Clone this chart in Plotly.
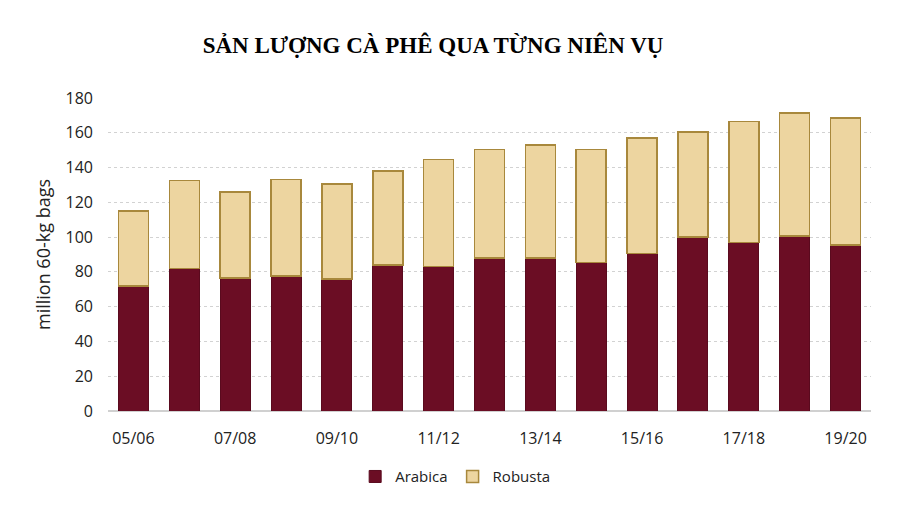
import plotly.graph_objects as go

# Niên vụ (seasons)
nien_vu = ['05/06', '06/07', '07/08', '08/09', '09/10', '10/11', '11/12', '12/13',
           '13/14', '14/15', '15/16', '16/17', '17/18', '18/19', '19/20']
# million 60-kg bags
arabica = [72, 82, 76.5, 77.5, 76, 84, 83, 88, 88, 85.5, 90.5, 100, 97, 100.5, 95.5]
robusta = [43, 50.5, 49.5, 55.5, 54.5, 54, 61.5, 62.5, 65, 65, 66.5, 60.5, 69.5, 71, 73]
nhan_truc_x = nien_vu[::2]

fig = go.Figure()
fig.add_trace(go.Bar(x=nien_vu, y=arabica, name='Arabica',
                     marker=dict(color='#6B0D24', line=dict(color='#5A0A1E', width=1))))
fig.add_trace(go.Bar(x=nien_vu, y=robusta, name='Robusta',
                     marker=dict(color='#EDD5A0', line=dict(color='#A8883C', width=1.5))))

# trang html có lề body 8px nên bù lại ở margin
fig.update_layout(
    barmode='stack',
    bargap=0.41,
    width=922, height=519,
    margin=dict(l=100, r=59, t=90, b=116, autoexpand=False),
    paper_bgcolor='white', plot_bgcolor='white',
    font=dict(family='Open Sans', size=16, color='#222222'),
    title=dict(text='<b>SẢN LƯỢNG CÀ PHÊ QUA TỪNG NIÊN VỤ</b>',
               font=dict(family='Liberation Serif', size=23, color='black'),
               x=0.461, xanchor='center', y=0.929, yanchor='middle'),
    legend=dict(orientation='h', x=0.455, xanchor='center', y=-0.21, yanchor='middle',
                font=dict(size=15), traceorder='normal', itemwidth=30),
    showlegend=True,
)
fig.update_xaxes(type='category', tickvals=nhan_truc_x, ticktext=nhan_truc_x,
                 showgrid=False, showline=False, ticks='', ticklabelstandoff=16,
                 tickfont=dict(size=16))
fig.update_yaxes(range=[0, 180], dtick=20, showgrid=True, griddash='dot',
                 gridcolor='#D2D2D2', gridwidth=1.2,
                 zeroline=True, zerolinecolor='#D0D0D0', zerolinewidth=1.5,
                 ticklabelstandoff=14, tickfont=dict(size=16),
                 title=dict(text='million 60-kg bags', font=dict(size=18), standoff=10))

fig.write_html("out.html")
